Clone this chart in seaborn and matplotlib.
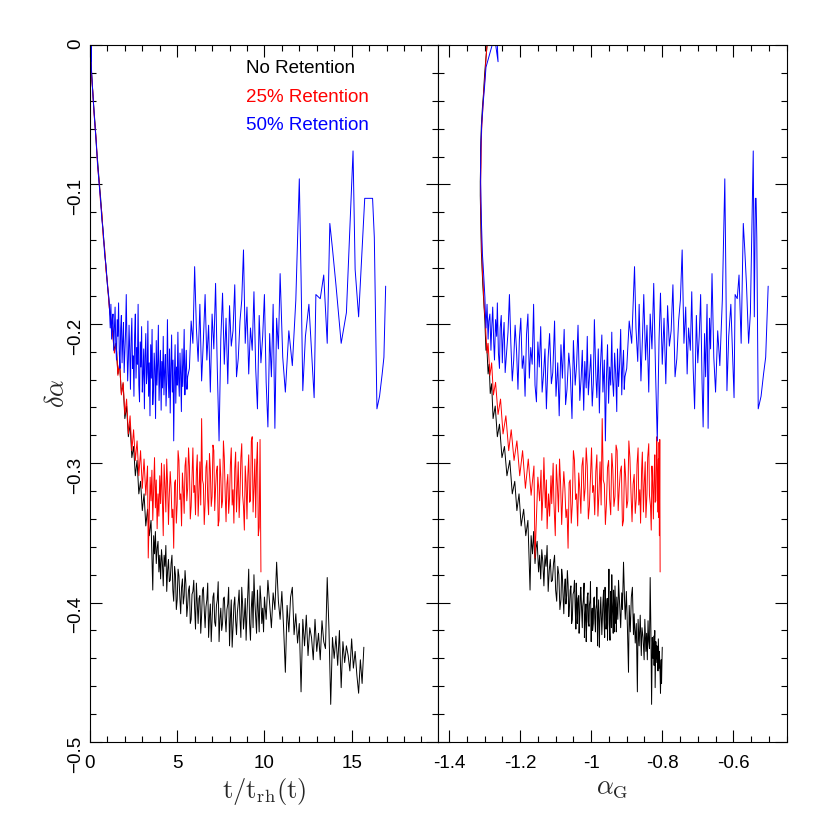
import numpy as np
import pandas as pd
import matplotlib
matplotlib.use('Agg')
import matplotlib.pyplot as plt
from matplotlib.ticker import MultipleLocator, FixedLocator, FixedFormatter
import seaborn as sns

# time in units of t_rh(t), alpha_G and delta-alpha for each retention model
t_black = [
    0.00, 0.05, 0.10, 0.16, 0.22, 0.30, 0.38, 0.45, 0.53, 0.60,
    0.68, 0.76, 0.84, 0.92, 1.00, 1.10, 1.20, 1.30, 1.40, 1.50,
    1.60, 1.70, 1.80, 1.90, 2.00, 2.10, 2.20, 2.30, 2.40, 2.50,
    2.60, 2.70, 2.80, 2.90, 3.00, 3.10, 3.20, 3.30, 3.40, 3.50,
    3.60, 3.65, 3.70, 3.75, 3.80, 3.85, 3.90, 3.95, 4.00, 4.05,
    4.10, 4.15, 4.20, 4.25, 4.30, 4.35, 4.40, 4.45, 4.50, 4.55,
    4.60, 4.65, 4.70, 4.75, 4.80, 4.85, 4.90, 4.95, 5.00, 5.05,
    5.10, 5.15, 5.20, 5.25, 5.30, 5.35, 5.40, 5.45, 5.50, 5.55,
    5.60, 5.65, 5.70, 5.75, 5.80, 5.85, 5.90, 5.95, 6.00, 6.05,
    6.10, 6.15, 6.20, 6.25, 6.30, 6.35, 6.40, 6.45, 6.50, 6.55,
    6.60, 6.65, 6.70, 6.75, 6.80, 6.85, 6.90, 6.95, 7.00, 7.05,
    7.10, 7.15, 7.20, 7.25, 7.30, 7.35, 7.40, 7.45, 7.50, 7.55,
    7.60, 7.65, 7.70, 7.75, 7.80, 7.85, 7.90, 7.95, 8.00, 8.05,
    8.10, 8.15, 8.20, 8.25, 8.30, 8.35, 8.40, 8.45, 8.50, 8.55,
    8.60, 8.65, 8.70, 8.75, 8.80, 8.85, 8.90, 8.95, 9.00, 9.05,
    9.10, 9.15, 9.20, 9.25, 9.30, 9.35, 9.40, 9.45, 9.50, 9.55,
    9.60, 9.65, 9.70, 9.75, 9.80, 9.85, 9.90, 9.95,
    10.0, 10.1, 10.2, 10.3, 10.4, 10.5, 10.6, 10.7, 10.8, 10.9,
    11.0, 11.1, 11.2, 11.3, 11.4, 11.5, 11.6, 11.7, 11.8, 11.9,
    12.0, 12.1, 12.2, 12.3, 12.4, 12.5, 12.6, 12.7, 12.8, 12.9,
    13.0, 13.1, 13.2, 13.3, 13.4, 13.5, 13.6, 13.7, 13.8, 13.9,
    14.0, 14.1, 14.2, 14.3, 14.4, 14.5, 14.6, 14.7, 14.8, 14.9,
    15.0, 15.1, 15.2, 15.3, 15.4, 15.5, 15.6, 15.7,
]
ag_black = [
    -1.293, -1.297, -1.300, -1.303, -1.306, -1.309, -1.311, -1.311, -1.312, -1.312,
    -1.311, -1.310, -1.309, -1.307, -1.305, -1.302, -1.299, -1.298, -1.296, -1.294,
    -1.290, -1.287, -1.284, -1.280, -1.276, -1.270, -1.264, -1.258, -1.251, -1.244,
    -1.237, -1.229, -1.222, -1.215, -1.209, -1.203, -1.197, -1.190, -1.184, -1.178,
    -1.172, -1.169, -1.165, -1.162, -1.158, -1.155, -1.152, -1.148, -1.145, -1.142,
    -1.139, -1.136, -1.133, -1.130, -1.127, -1.124, -1.121, -1.118, -1.115, -1.112,
    -1.109, -1.106, -1.103, -1.100, -1.097, -1.094, -1.091, -1.088, -1.085, -1.083,
    -1.081, -1.079, -1.077, -1.075, -1.073, -1.071, -1.069, -1.067, -1.065, -1.063,
    -1.061, -1.059, -1.057, -1.055, -1.053, -1.051, -1.049, -1.047, -1.045, -1.043,
    -1.042, -1.040, -1.039, -1.037, -1.035, -1.034, -1.032, -1.030, -1.029, -1.027,
    -1.025, -1.024, -1.022, -1.020, -1.019, -1.017, -1.015, -1.014, -1.012, -1.011,
    -1.009, -1.008, -1.006, -1.005, -1.003, -1.002, -1.000, -0.999, -0.997, -0.996,
    -0.994, -0.993, -0.991, -0.990, -0.988, -0.987, -0.985, -0.984, -0.982, -0.981,
    -0.979, -0.977, -0.976, -0.974, -0.973, -0.971, -0.970, -0.968, -0.967, -0.965,
    -0.964, -0.962, -0.961, -0.959, -0.958, -0.956, -0.955, -0.954, -0.953, -0.951,
    -0.950, -0.949, -0.947, -0.946, -0.945, -0.943, -0.942, -0.941, -0.939, -0.938,
    -0.937, -0.935, -0.934, -0.933, -0.932, -0.930, -0.929, -0.929,
    -0.928, -0.925, -0.923, -0.920, -0.917, -0.914, -0.912, -0.909, -0.906, -0.904,
    -0.901, -0.898, -0.895, -0.893, -0.890, -0.887, -0.884, -0.881, -0.879, -0.876,
    -0.873, -0.870, -0.868, -0.865, -0.862, -0.859, -0.857, -0.854, -0.851, -0.849,
    -0.846, -0.844, -0.842, -0.840, -0.838, -0.836, -0.834, -0.832, -0.830, -0.828,
    -0.826, -0.824, -0.823, -0.821, -0.820, -0.818, -0.817, -0.815, -0.814, -0.812,
    -0.811, -0.809, -0.808, -0.806, -0.805, -0.803, -0.802, -0.800,
]
da_black = [
    0.000, -0.012, -0.022, -0.035, -0.045, -0.058, -0.075, -0.085, -0.098, -0.108,
    -0.122, -0.135, -0.148, -0.160, -0.172, -0.185, -0.198, -0.206, -0.219, -0.214,
    -0.236, -0.229, -0.250, -0.243, -0.268, -0.259, -0.281, -0.272, -0.296, -0.288,
    -0.309, -0.298, -0.322, -0.313, -0.334, -0.322, -0.345, -0.333, -0.352, -0.341,
    -0.391, -0.352, -0.365, -0.349, -0.372, -0.361, -0.356, -0.378, -0.366, -0.383,
    -0.362, -0.371, -0.388, -0.366, -0.374, -0.359, -0.392, -0.377, -0.369, -0.385,
    -0.384, -0.372, -0.366, -0.391, -0.399, -0.374, -0.380, -0.405, -0.398, -0.376,
    -0.381, -0.396, -0.408, -0.389, -0.383, -0.401, -0.395, -0.377, -0.387, -0.410,
    -0.402, -0.391, -0.388, -0.415, -0.412, -0.394, -0.392, -0.384, -0.404, -0.419,
    -0.386, -0.401, -0.415, -0.397, -0.395, -0.422, -0.409, -0.391, -0.389, -0.405,
    -0.418, -0.403, -0.398, -0.386, -0.425, -0.410, -0.401, -0.428, -0.412, -0.396,
    -0.393, -0.414, -0.417, -0.402, -0.398, -0.385, -0.428, -0.412, -0.404, -0.420,
    -0.415, -0.397, -0.396, -0.411, -0.421, -0.405, -0.401, -0.389, -0.431, -0.411,
    -0.398, -0.432, -0.418, -0.402, -0.396, -0.413, -0.423, -0.407, -0.400, -0.391,
    -0.412, -0.425, -0.389, -0.401, -0.419, -0.410, -0.397, -0.427, -0.408, -0.393,
    -0.376, -0.415, -0.427, -0.404, -0.392, -0.418, -0.380, -0.399, -0.410, -0.422,
    -0.391, -0.406, -0.421, -0.388, -0.398, -0.415, -0.404, -0.421,
    -0.396, -0.412, -0.384, -0.401, -0.418, -0.393, -0.405, -0.371, -0.399, -0.412,
    -0.392, -0.418, -0.450, -0.402, -0.421, -0.396, -0.389, -0.423, -0.408, -0.429,
    -0.415, -0.464, -0.412, -0.431, -0.409, -0.438, -0.418, -0.425, -0.441, -0.412,
    -0.435, -0.422, -0.441, -0.413, -0.428, -0.433, -0.382, -0.419, -0.473, -0.425,
    -0.440, -0.424, -0.445, -0.420, -0.461, -0.428, -0.443, -0.431, -0.438, -0.449,
    -0.426, -0.447, -0.435, -0.452, -0.465, -0.441, -0.458, -0.432,
]

t_red = [
    0.00, 0.05, 0.10, 0.16, 0.22, 0.30, 0.36, 0.44, 0.52, 0.60,
    0.68, 0.76, 0.84, 0.92, 1.00, 1.10, 1.20, 1.30, 1.40, 1.50,
    1.60, 1.70, 1.80, 1.90, 2.00, 2.10, 2.20, 2.30, 2.40, 2.50,
    2.60, 2.70, 2.80, 2.90, 3.00, 3.10, 3.20, 3.30, 3.34, 3.45,
    3.50, 3.55, 3.60, 3.65, 3.70, 3.75, 3.80, 3.85, 3.90, 3.95,
    4.00, 4.05, 4.10, 4.15, 4.20, 4.25, 4.30, 4.35, 4.40, 4.45,
    4.50, 4.55, 4.60, 4.65, 4.70, 4.75, 4.80, 4.85, 4.90, 4.95,
    5.00, 5.05, 5.10, 5.15, 5.20, 5.25, 5.30, 5.35, 5.40, 5.45,
    5.50, 5.55, 5.60, 5.65, 5.70, 5.75, 5.80, 5.85, 5.90, 5.95,
    6.00, 6.05, 6.10, 6.15, 6.20, 6.25, 6.30, 6.35, 6.40, 6.45,
    6.50, 6.55, 6.60, 6.65, 6.70, 6.75, 6.80, 6.85, 6.90, 6.95,
    7.00, 7.05, 7.10, 7.15, 7.20, 7.25, 7.30, 7.35, 7.40, 7.45,
    7.50, 7.55, 7.60, 7.65, 7.70, 7.75, 7.80, 7.85, 7.90, 7.95,
    8.00, 8.05, 8.10, 8.15, 8.20, 8.25, 8.30, 8.35, 8.40, 8.45,
    8.50, 8.55, 8.60, 8.65, 8.70, 8.75, 8.80, 8.85, 8.90, 8.95,
    9.00, 9.05, 9.10, 9.15, 9.20, 9.25, 9.30, 9.35, 9.40, 9.45,
    9.50, 9.55, 9.60, 9.65, 9.70, 9.75, 9.80,
]
ag_red = [
    -1.293, -1.296, -1.299, -1.302, -1.305, -1.308, -1.309, -1.310, -1.311, -1.311,
    -1.310, -1.309, -1.308, -1.306, -1.304, -1.301, -1.298, -1.296, -1.293, -1.290,
    -1.285, -1.280, -1.275, -1.269, -1.262, -1.255, -1.248, -1.240, -1.232, -1.225,
    -1.217, -1.209, -1.201, -1.193, -1.185, -1.177, -1.169, -1.161, -1.158, -1.150,
    -1.145, -1.141, -1.139, -1.135, -1.133, -1.129, -1.126, -1.124, -1.120, -1.117,
    -1.113, -1.111, -1.107, -1.105, -1.101, -1.098, -1.095, -1.092, -1.089, -1.086,
    -1.083, -1.080, -1.077, -1.074, -1.071, -1.068, -1.065, -1.062, -1.059, -1.056,
    -1.053, -1.050, -1.047, -1.044, -1.041, -1.038, -1.035, -1.032, -1.029, -1.026,
    -1.023, -1.020, -1.017, -1.014, -1.011, -1.008, -1.005, -1.002, -0.999, -0.996,
    -0.993, -0.990, -0.987, -0.984, -0.981, -0.978, -0.975, -0.972, -0.969, -0.966,
    -0.963, -0.960, -0.957, -0.954, -0.951, -0.948, -0.945, -0.942, -0.939, -0.936,
    -0.933, -0.930, -0.927, -0.924, -0.921, -0.918, -0.915, -0.912, -0.909, -0.906,
    -0.903, -0.900, -0.897, -0.894, -0.891, -0.888, -0.885, -0.882, -0.879, -0.876,
    -0.873, -0.871, -0.868, -0.866, -0.863, -0.861, -0.858, -0.856, -0.853, -0.851,
    -0.848, -0.846, -0.843, -0.841, -0.838, -0.836, -0.833, -0.831, -0.829, -0.827,
    -0.825, -0.823, -0.821, -0.820, -0.818, -0.816, -0.815, -0.813, -0.812, -0.811,
    -0.810, -0.809, -0.809, -0.808, -0.808, -0.807, -0.806,
]
da_red = [
    0.000, -0.010, -0.024, -0.033, -0.047, -0.060, -0.068, -0.088, -0.097, -0.112,
    -0.121, -0.138, -0.146, -0.162, -0.170, -0.188, -0.196, -0.208, -0.221, -0.214,
    -0.237, -0.228, -0.251, -0.242, -0.265, -0.254, -0.279, -0.266, -0.291, -0.276,
    -0.298, -0.284, -0.309, -0.291, -0.318, -0.297, -0.323, -0.302, -0.368, -0.310,
    -0.327, -0.305, -0.341, -0.318, -0.296, -0.332, -0.312, -0.347, -0.322, -0.338,
    -0.309, -0.329, -0.300, -0.327, -0.352, -0.301, -0.316, -0.335, -0.297, -0.315,
    -0.344, -0.322, -0.306, -0.318, -0.339, -0.333, -0.361, -0.314, -0.312, -0.343,
    -0.329, -0.291, -0.298, -0.326, -0.322, -0.345, -0.307, -0.319, -0.336, -0.302,
    -0.296, -0.327, -0.318, -0.289, -0.302, -0.340, -0.331, -0.309, -0.289, -0.321,
    -0.316, -0.337, -0.306, -0.294, -0.338, -0.321, -0.299, -0.330, -0.268, -0.312,
    -0.315, -0.344, -0.329, -0.303, -0.298, -0.326, -0.337, -0.293, -0.305, -0.331,
    -0.324, -0.287, -0.291, -0.334, -0.318, -0.306, -0.302, -0.345, -0.341, -0.297,
    -0.310, -0.332, -0.327, -0.284, -0.296, -0.321, -0.342, -0.315, -0.308, -0.336,
    -0.325, -0.301, -0.289, -0.330, -0.319, -0.343, -0.304, -0.292, -0.335, -0.317,
    -0.299, -0.339, -0.322, -0.296, -0.286, -0.323, -0.331, -0.348, -0.302, -0.314,
    -0.340, -0.309, -0.294, -0.328, -0.327, -0.284, -0.281, -0.335, -0.318, -0.297,
    -0.339, -0.301, -0.285, -0.352, -0.346, -0.283, -0.378,
]

t_blue = [
    0.00, 0.02, 0.04, 0.06, 0.08, 0.14, 0.20, 0.28, 0.36, 0.44,
    0.52, 0.60, 0.68, 0.76, 0.84, 0.92, 1.00, 1.08,
    1.12, 1.16, 1.20, 1.24, 1.28, 1.32, 1.36, 1.40, 1.44, 1.48,
    1.52, 1.56, 1.60, 1.64, 1.68, 1.72, 1.76, 1.80, 1.84, 1.88,
    1.92, 1.96, 2.00, 2.04, 2.08, 2.12, 2.16, 2.20, 2.24, 2.28,
    2.32, 2.36, 2.40, 2.44, 2.48, 2.52, 2.56, 2.60, 2.64, 2.68,
    2.72, 2.76, 2.80, 2.84, 2.88, 2.92, 2.96, 3.00, 3.04, 3.08,
    3.12, 3.16, 3.20, 3.24, 3.28, 3.32, 3.36, 3.40, 3.44, 3.48,
    3.52, 3.56, 3.60, 3.64, 3.68, 3.72, 3.76, 3.80, 3.84, 3.88,
    3.92, 3.96, 4.00, 4.04, 4.08, 4.12, 4.16, 4.20, 4.24, 4.28,
    4.32, 4.36, 4.40, 4.44, 4.48, 4.52, 4.56, 4.60, 4.64, 4.68,
    4.72, 4.76, 4.80, 4.84, 4.88, 4.92, 4.96, 5.00, 5.04, 5.08,
    5.12, 5.16, 5.20, 5.24, 5.28, 5.32, 5.36, 5.40, 5.44, 5.48,
    5.52, 5.56, 5.60,
    5.7, 5.8, 5.9, 6.0, 6.1, 6.2, 6.3, 6.4, 6.5, 6.6,
    6.7, 6.8, 6.9, 7.0, 7.1, 7.2, 7.3, 7.4, 7.5, 7.6,
    7.7, 7.8, 7.9, 8.0, 8.1, 8.2, 8.3, 8.4, 8.5, 8.6,
    8.7, 8.8, 8.9, 9.0, 9.1, 9.2, 9.3, 9.4, 9.5, 9.6,
    9.7, 9.8, 9.9, 10.0, 10.1, 10.2, 10.3, 10.4, 10.5, 10.6,
    10.7, 10.8, 10.9,
    11.05, 11.20, 11.40, 11.60, 11.80, 12.00, 12.10,
    12.20, 12.35, 12.55, 12.85, 12.95, 13.20, 13.40, 13.60, 13.75, 13.90,
    14.10, 14.40, 14.70, 15.08, 15.20, 15.40, 15.75, 16.20, 16.30, 16.45,
    16.60, 16.75, 16.85, 16.95,
]
ag_blue = [
    -1.293, -1.266, -1.262, -1.272, -1.296, -1.300, -1.304, -1.308, -1.310, -1.311,
    -1.311, -1.310, -1.309, -1.308, -1.306, -1.304, -1.301, -1.299,
    -1.298, -1.296, -1.293, -1.290, -1.288, -1.285, -1.282, -1.280, -1.277, -1.274,
    -1.272, -1.269, -1.266, -1.264, -1.261, -1.258, -1.256, -1.253, -1.250, -1.248,
    -1.245, -1.242, -1.238, -1.234, -1.230, -1.226, -1.222, -1.218, -1.214, -1.210,
    -1.206, -1.202, -1.198, -1.194, -1.190, -1.186, -1.182, -1.178, -1.174, -1.170,
    -1.166, -1.162, -1.158, -1.154, -1.150, -1.146, -1.142, -1.138, -1.134, -1.130,
    -1.126, -1.121, -1.117, -1.112, -1.108, -1.103, -1.099, -1.094, -1.090, -1.085,
    -1.081, -1.076, -1.072, -1.068, -1.063, -1.059, -1.054, -1.050, -1.045, -1.041,
    -1.037, -1.032, -1.028, -1.025, -1.021, -1.018, -1.014, -1.011, -1.008, -1.004,
    -1.001, -0.997, -0.994, -0.991, -0.987, -0.984, -0.980, -0.977, -0.974, -0.970,
    -0.967, -0.963, -0.960, -0.957, -0.954, -0.951, -0.948, -0.945, -0.942, -0.940,
    -0.937, -0.934, -0.931, -0.928, -0.926, -0.923, -0.920, -0.917, -0.914, -0.912,
    -0.909, -0.907, -0.905,
    -0.900, -0.893, -0.886, -0.878, -0.874, -0.869, -0.865, -0.860, -0.856, -0.852,
    -0.847, -0.843, -0.838, -0.834, -0.829, -0.824, -0.819, -0.814, -0.809, -0.805,
    -0.800, -0.795, -0.790, -0.785, -0.780, -0.775, -0.770, -0.764, -0.759, -0.754,
    -0.749, -0.744, -0.739, -0.734, -0.730, -0.726, -0.721, -0.717, -0.713, -0.709,
    -0.704, -0.700, -0.696, -0.692, -0.688, -0.685, -0.681, -0.678, -0.674, -0.671,
    -0.667, -0.664, -0.660,
    -0.655, -0.650, -0.644, -0.638, -0.631, -0.624, -0.621,
    -0.618, -0.613, -0.607, -0.598, -0.595, -0.589, -0.584, -0.578, -0.572, -0.568,
    -0.563, -0.557, -0.552, -0.544, -0.542, -0.541, -0.538, -0.536, -0.534, -0.530,
    -0.522, -0.515, -0.509, -0.502,
]
da_blue = [
    0.000, 0.012, -0.012, 0.006, -0.016, -0.030, -0.042, -0.057, -0.070, -0.086,
    -0.099, -0.110, -0.125, -0.134, -0.150, -0.158, -0.172, -0.181,
    -0.190, -0.203, -0.186, -0.211, -0.198, -0.193, -0.219, -0.204, -0.188, -0.215,
    -0.226, -0.197, -0.209, -0.185, -0.221, -0.232, -0.203, -0.194, -0.228, -0.212,
    -0.199, -0.235, -0.221, -0.206, -0.179, -0.214, -0.241, -0.226, -0.201, -0.219,
    -0.247, -0.211, -0.196, -0.232, -0.223, -0.252, -0.208, -0.193, -0.239, -0.217,
    -0.229, -0.186, -0.244, -0.256, -0.213, -0.231, -0.202, -0.249, -0.236, -0.218,
    -0.261, -0.224, -0.207, -0.243, -0.235, -0.198, -0.252, -0.228, -0.266, -0.215,
    -0.239, -0.204, -0.258, -0.247, -0.221, -0.233, -0.268, -0.212, -0.244, -0.229,
    -0.201, -0.255, -0.238, -0.219, -0.262, -0.227, -0.246, -0.209, -0.251, -0.234,
    -0.222, -0.259, -0.243, -0.197, -0.236, -0.253, -0.218, -0.264, -0.231, -0.208,
    -0.249, -0.226, -0.284, -0.238, -0.215, -0.257, -0.231, -0.244, -0.206, -0.239,
    -0.252, -0.221, -0.236, -0.263, -0.218, -0.245, -0.229, -0.204, -0.251, -0.233,
    -0.219, -0.247, -0.238,
    -0.232, -0.198, -0.214, -0.159, -0.203, -0.227, -0.186, -0.241, -0.212, -0.179,
    -0.226, -0.201, -0.249, -0.193, -0.218, -0.171, -0.233, -0.284, -0.211, -0.178,
    -0.229, -0.196, -0.243, -0.187, -0.216, -0.205, -0.172, -0.238, -0.225, -0.198,
    -0.183, -0.147, -0.214, -0.188, -0.236, -0.203, -0.219, -0.177, -0.232, -0.261,
    -0.194, -0.228, -0.209, -0.179, -0.242, -0.274, -0.207, -0.238, -0.186, -0.275,
    -0.196, -0.218, -0.164,
    -0.224, -0.249, -0.205, -0.230, -0.183, -0.096, -0.166,
    -0.248, -0.209, -0.186, -0.253, -0.179, -0.182, -0.165, -0.214, -0.128, -0.146,
    -0.172, -0.214, -0.192, -0.076, -0.161, -0.195, -0.110, -0.110, -0.138, -0.261,
    -0.252, -0.236, -0.224, -0.173,
]

models = ['No Retention', '25% Retention', '50% Retention']
colors = ['black', 'red', 'blue']

sns.set_style('ticks')
plt.rcParams['font.family'] = ['Liberation Sans', 'DejaVu Sans']
plt.rcParams['mathtext.fontset'] = 'cm'

frames = []
for name, t, ag, da in zip(models, [t_black, t_red, t_blue],
                           [ag_black, ag_red, ag_blue],
                           [da_black, da_red, da_blue]):
    frames.append(pd.DataFrame({'t': t, 'ag': ag, 'da': da, 'model': name}))
df = pd.concat(frames, ignore_index=True)
palette = dict(zip(models, colors))

fig = plt.figure(figsize=(8.3, 8.3), dpi=100)
ax1 = fig.add_axes([0.1084, 0.106, 0.4193, 0.8398])
ax2 = fig.add_axes([0.5277, 0.106, 0.4205, 0.8398])

sns.lineplot(data=df, x='t', y='da', hue='model', hue_order=models,
             palette=palette, sort=False, estimator=None, lw=0.7,
             legend=False, ax=ax1)
sns.lineplot(data=df, x='ag', y='da', hue='model', hue_order=models,
             palette=palette, sort=False, estimator=None, lw=0.7,
             legend=False, ax=ax2)

yticks = [-0.5, -0.4, -0.3, -0.2, -0.1, 0.0]
ylabels = ['\u22120.5', '\u22120.4', '\u22120.3', '\u22120.2', '\u22120.1', '0']

for ax in (ax1, ax2):
    ax.set_ylim(-0.5, 0)
    ax.yaxis.set_major_locator(FixedLocator(yticks))
    ax.yaxis.set_minor_locator(MultipleLocator(0.02))
    ax.tick_params(which='both', direction='in', top=True, right=True,
                   width=0.8, colors='black')
    ax.tick_params(which='major', length=8.6)
    ax.tick_params(which='minor', length=4.3)
    for sp in ax.spines.values():
        sp.set_linewidth(0.8)
        sp.set_color('black')

ax1.yaxis.set_major_formatter(FixedFormatter(ylabels))
ax1.tick_params(axis='y', labelrotation=90, labelsize=13.5, pad=4)
ax2.tick_params(axis='y', labelleft=False)

ax1.set_xlim(0, 19.95)
ax1.xaxis.set_major_locator(FixedLocator([0, 5, 10, 15]))
ax1.xaxis.set_major_formatter(FixedFormatter(['0', '5', '10', '15']))
ax1.xaxis.set_minor_locator(MultipleLocator(1))

ax2.set_xlim(-1.431, -0.449)
ax2.xaxis.set_major_locator(FixedLocator([-1.4, -1.2, -1.0, -0.8, -0.6]))
ax2.xaxis.set_major_formatter(FixedFormatter(['-1.4', '-1.2', '-1', '-0.8', '-0.6']))
ax2.xaxis.set_minor_locator(MultipleLocator(0.05))

for ax in (ax1, ax2):
    ax.tick_params(axis='x', labelsize=13.5, pad=9.5)

ax1.set_ylabel(r'$\delta\alpha$', fontsize=19, labelpad=-1)
ax1.set_xlabel(r'$\mathrm{t/t_{rh}(t)}$', fontsize=19, labelpad=3)
ax2.set_xlabel(r'$\alpha_{\rm G}$', fontsize=19, labelpad=3)
ax2.set_ylabel('')

for (label, col), yb in zip(zip(models, colors), [0.9598, 0.918, 0.878]):
    ax1.text(0.448, yb, label, transform=ax1.transAxes, color=col,
             fontsize=13.5, ha='left', va='baseline')

fig.savefig('out.png', dpi=100)
